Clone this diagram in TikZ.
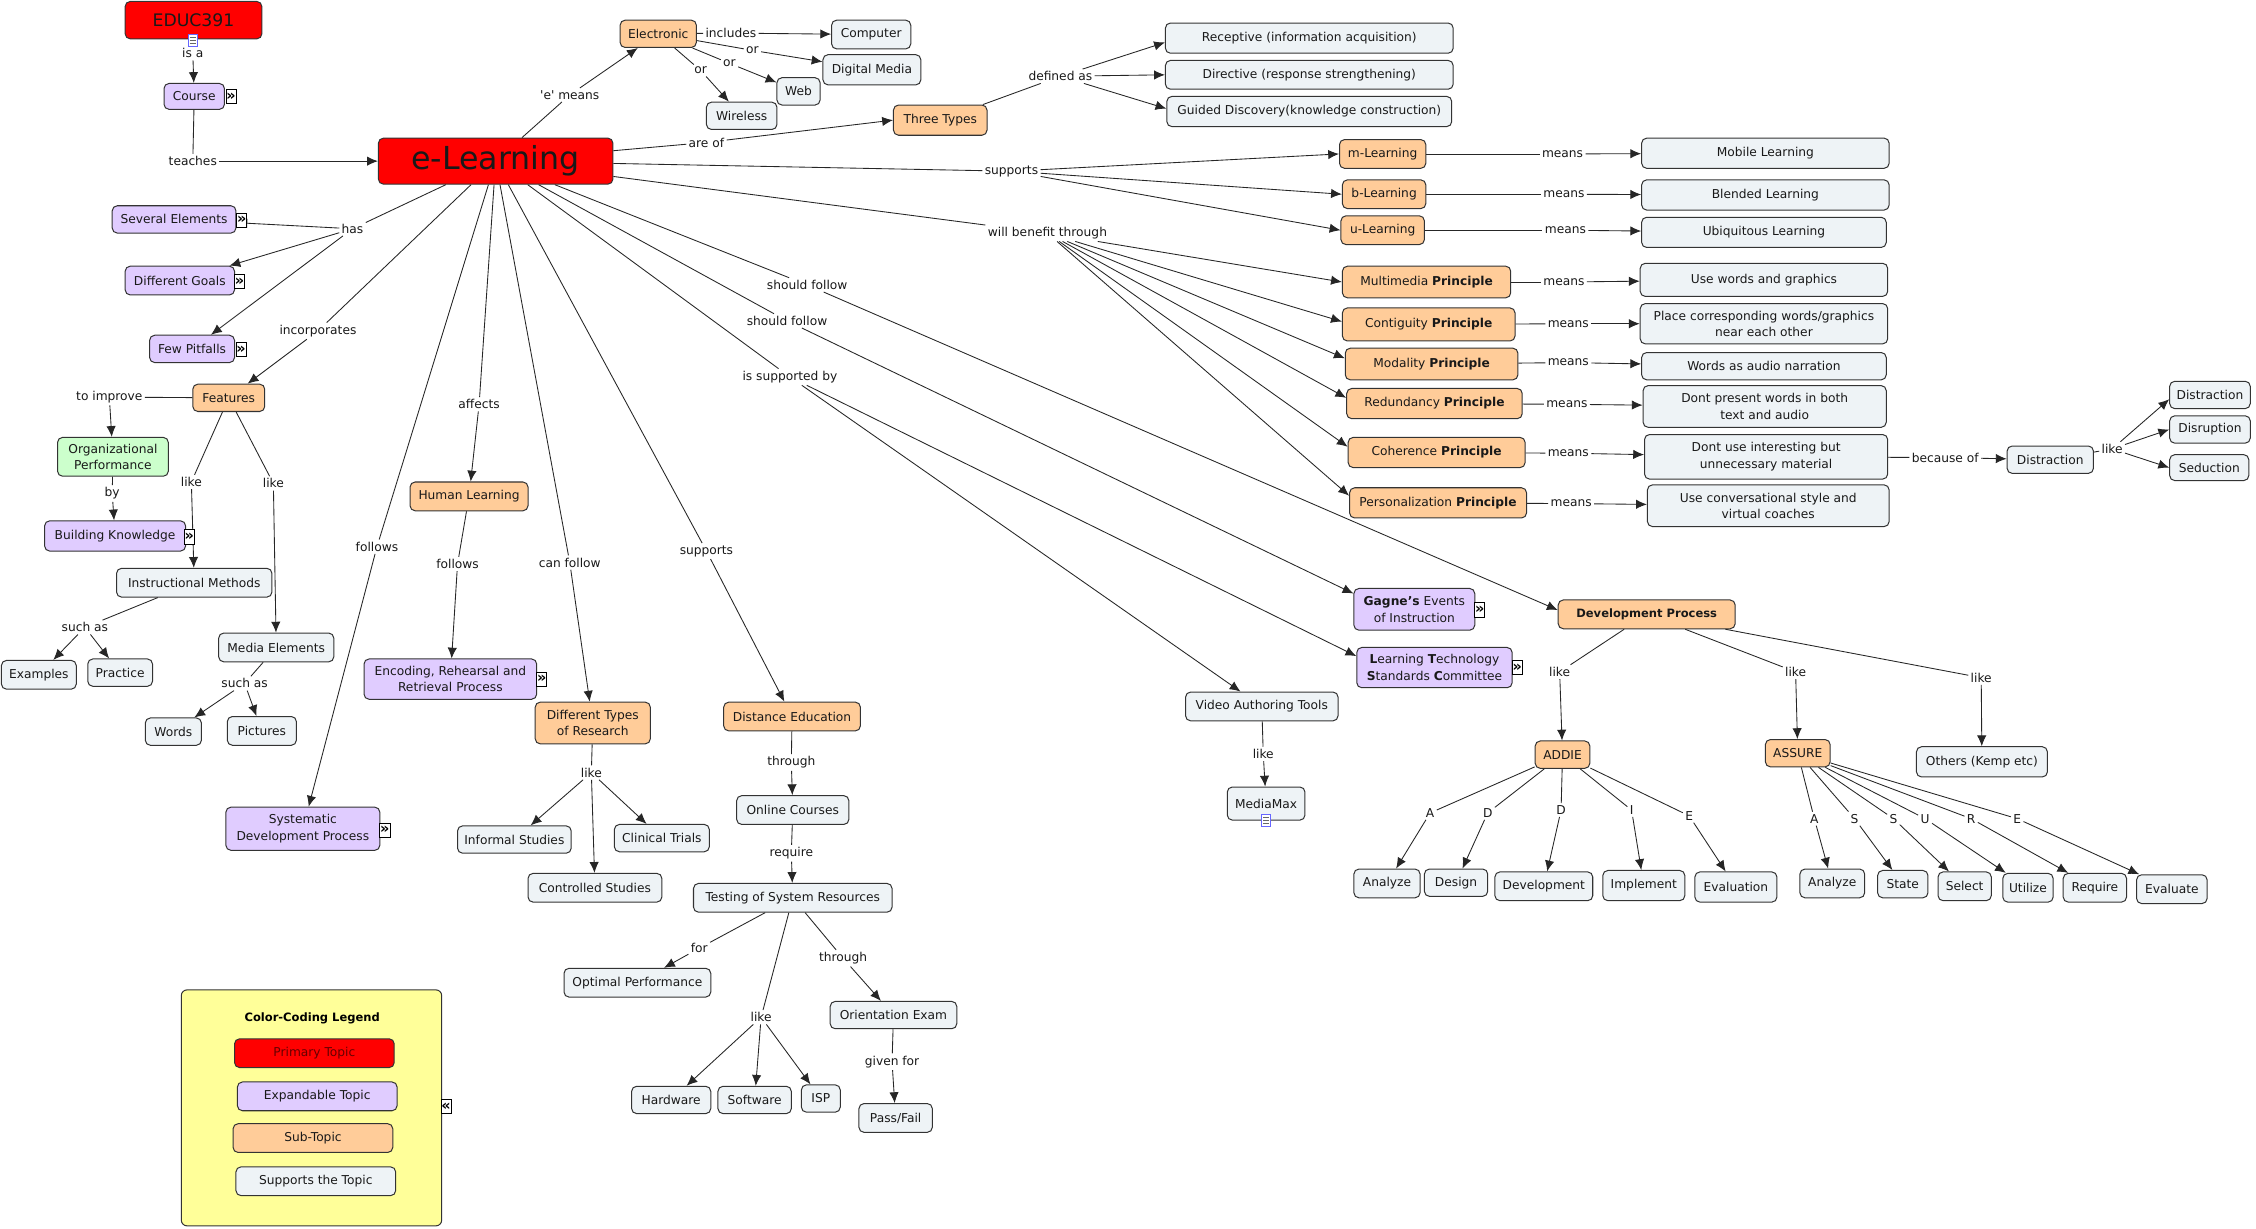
\documentclass[tikz,border=0pt]{standalone}
\usepackage{fontspec}
\setmainfont{DejaVu Sans}
\usetikzlibrary{arrows.meta}
\definecolor{pred}{HTML}{FF0000}
\definecolor{pexp}{HTML}{E0CCFF}
\definecolor{psub}{HTML}{FFCC99}
\definecolor{psup}{HTML}{EEF3F6}
\definecolor{pgrn}{HTML}{CCFFCC}
\definecolor{pyel}{HTML}{FFFF99}
\newcommand\nfs{\fontsize{8.5}{11.5}\selectfont}
\begin{document}
\begin{tikzpicture}[x=1pt,y=-1pt,
  bx/.style={draw=black!80, rounded corners=3.5pt, line width=0.7pt, font=\nfs, align=center, inner sep=1pt, text=black!90},
  pri/.style={bx, fill=pred},
  exd/.style={bx, fill=pexp},
  sbt/.style={bx, fill=psub},
  spt/.style={bx, fill=psup},
  grn/.style={bx, fill=pgrn},
  wh/.style 2 args={minimum width=#1pt, minimum height=#2pt},
  lb/.style={font=\nfs, inner sep=1.5pt, text=black!90},
  ln/.style={line width=0.6pt, draw=black!85},
  ar/.style={ln, -{Latex[length=7.5pt,width=6.5pt]}},
  xic/.style={draw, fill=white, inner sep=0pt, minimum width=7pt, minimum height=10pt, line width=0.5pt, font=\fontsize{10}{10}\selectfont\bfseries},
  dic/.style={draw=blue!60, fill=white, inner sep=0pt, minimum width=6.5pt, minimum height=8.5pt, line width=0.5pt},
]
\fill[white] (0,0) rectangle (1568,854);
\useasboundingbox (0,0) rectangle (1568,854);

% ---------- top left ----------
\node[pri,wh={95}{26},font=\fontsize{12}{14}\selectfont] (educ) at (134.5,14) {EDUC391};
\node[lb] (isa) at (134,37) {is a};
\node[exd,wh={42}{18}] (course) at (135,67) {Course};
\node[lb] (teaches) at (134,112) {teaches};
\node[pri,wh={163}{32},font=\fontsize{22}{24}\selectfont] (elearn) at (344.5,112) {e-Learning};
\node[lb] (emeans) at (396,66) {\textquotesingle e\textquotesingle\ means};
\node[sbt,wh={53}{19}] (electronic) at (457.5,23.5) {Electronic};
\node[lb] (includes) at (508,23) {includes};
\node[spt,wh={55}{20}] (computer) at (605.5,24) {Computer};
\node[lb] (or1) at (523,35) {or};
\node[spt,wh={68}{21}] (digmedia) at (606,48.5) {Digital Media};
\node[lb] (or2) at (507,44) {or};
\node[spt,wh={30}{19}] (web) at (555,63.5) {Web};
\node[lb] (or3) at (487,49) {or};
\node[spt,wh={49}{19}] (wireless) at (515.5,80.5) {Wireless};
\node[lb] (areof) at (491,99) {are of};
\node[sbt,wh={65}{21}] (three) at (653.5,83.5) {Three Types};
\node[lb] (defas) at (737,53) {defined as};
\node[spt,wh={200}{21}] (recep) at (910,26.5) {Receptive (information acquisition)};
\node[spt,wh={200}{20}] (direc) at (910,52) {Directive (response strengthening)};
\node[spt,wh={198}{21}] (guided) at (910,77.5) {Guided Discovery(knowledge construction)};

% ---------- supports m/b/u ----------
\node[lb] (supp1) at (703,119) {supports};
\node[sbt,wh={60}{20}] (mlearn) at (961,107) {m-Learning};
\node[sbt,wh={58}{20}] (blearn) at (962,135) {b-Learning};
\node[sbt,wh={58}{20}] (ulearn) at (961,160) {u-Learning};
\node[lb] (mm) at (1086,107) {means};
\node[lb] (mb) at (1087,135) {means};
\node[lb] (mu) at (1088,160) {means};
\node[spt,wh={172}{21}] (mobile) at (1227,106.5) {Mobile Learning};
\node[spt,wh={172}{21}] (blended) at (1227,135.5) {Blended Learning};
\node[spt,wh={170}{21}] (ubiq) at (1226,161.5) {Ubiquitous Learning};

% ---------- principles ----------
\node[lb] (wbt) at (728,162) {will benefit through};
\node[sbt,wh={117}{22}] (pmulti) at (991.5,196) {Multimedia \textbf{Principle}};
\node[sbt,wh={120}{23}] (pconti) at (993,225.5) {Contiguity \textbf{Principle}};
\node[sbt,wh={120}{22}] (pmoda) at (995,253) {Modality \textbf{Principle}};
\node[sbt,wh={122}{21}] (predun) at (997,280.5) {Redundancy \textbf{Principle}};
\node[sbt,wh={123}{21}] (pcoher) at (998.5,314.5) {Coherence \textbf{Principle}};
\node[sbt,wh={123}{21}] (pperso) at (999.5,349.5) {Personalization \textbf{Principle}};
\node[lb] (mn1) at (1087,196) {means};
\node[lb] (mn2) at (1090,225) {means};
\node[lb] (mn3) at (1090,252) {means};
\node[lb] (mn4) at (1089,281) {means};
\node[lb] (mn5) at (1090,315) {means};
\node[lb] (mn6) at (1092,350) {means};
\node[spt,wh={172}{23}] (usewords) at (1226,194.5) {Use words and graphics};
\node[spt,wh={172}{28}] (place) at (1226,225) {Place corresponding words/graphics\\near each other};
\node[spt,wh={170}{19}] (audio) at (1226,254.5) {Words as audio narration};
\node[spt,wh={169}{29}] (dontp) at (1226.5,282.5) {Dont present words in both\\text and audio};
\node[spt,wh={169}{31}] (dontu) at (1227.5,317.5) {Dont use interesting but\\unnecessary material};
\node[spt,wh={168}{29}] (convers) at (1229,351.5) {Use conversational style and\\virtual coaches};
\node[lb] (becof) at (1352,318) {because of};
\node[spt,wh={60}{19}] (distr) at (1425,319.5) {Distraction};
\node[lb] (likeD) at (1468,312) {like};
\node[spt,wh={56}{19}] (distr2) at (1536,274.5) {Distraction};
\node[spt,wh={56}{19}] (disrupt) at (1536,298.5) {Disruption};
\node[spt,wh={55}{18}] (seduct) at (1535.5,325) {Seduction};

% ---------- left ----------
\node[lb] (has) at (245,159) {has};
\node[exd,wh={86}{19}] (several) at (121,152.5) {Several Elements};
\node[exd,wh={76}{20}] (goals) at (125,195) {Different Goals};
\node[exd,wh={59}{19}] (pitfalls) at (133.5,242.5) {Few Pitfalls};
\node[lb] (incorp) at (221,230) {incorporates};
\node[sbt,wh={50}{19}] (features) at (159,276.5) {Features};
\node[lb] (toimp) at (76,276) {to improve};
\node[grn,wh={77}{27}] (orgperf) at (78.5,317.5) {Organizational\\Performance};
\node[lb] (by) at (78,343) {by};
\node[exd,wh={98}{21}] (building) at (80,372.5) {Building Knowledge};
\node[lb] (likeFa) at (133,335) {like};
\node[lb] (likeFb) at (190,336) {like};
\node[spt,wh={108}{20}] (instr) at (135,405) {Instructional Methods};
\node[spt,wh={80}{20}] (media) at (192,450) {Media Elements};
\node[lb] (suchasa) at (59,436) {such as};
\node[spt,wh={52}{20}] (examples) at (27,469) {Examples};
\node[spt,wh={45}{19}] (practice) at (83.5,467.5) {Practice};
\node[lb] (suchasb) at (170,475) {such as};
\node[spt,wh={39}{19}] (words) at (120.5,508.5) {Words};
\node[spt,wh={48}{20}] (pictures) at (182,508) {Pictures};
\node[lb] (followsa) at (262,380) {follows};
\node[exd,wh={107}{30}] (sysdev) at (210.5,576) {Systematic\\Development Process};
\node[lb] (affects) at (333,281) {affects};
\node[sbt,wh={82}{20}] (human) at (326,345) {Human Learning};
\node[lb] (followsb) at (318,392) {follows};
\node[exd,wh={120}{28}] (encoding) at (313,472) {Encoding, Rehearsal and\\Retrieval Process};
\node[lb] (canfollow) at (396,391) {can follow};
\node[sbt,wh={80}{29}] (difftypes) at (412,502.5) {Different Types\\of Research};
\node[lb] (likeR) at (411,537) {like};
\node[spt,wh={79}{19}] (informal) at (357.5,583.5) {Informal Studies};
\node[spt,wh={93}{20}] (controlled) at (413.5,617) {Controlled Studies};
\node[spt,wh={66}{19}] (clinical) at (460,582.5) {Clinical Trials};
\node[lb] (suppb) at (491,383) {supports};
\node[sbt,wh={95}{20}] (distance) at (550.5,498) {Distance Education};
\node[lb] (througha) at (550,530) {through};
\node[spt,wh={78}{20}] (online) at (551,563) {Online Courses};
\node[lb] (require) at (550,593) {require};
\node[spt,wh={138}{20}] (testing) at (551,624) {Testing of System Resources};
\node[lb] (forl) at (486,659) {for};
\node[spt,wh={102}{20}] (optimal) at (443,683) {Optimal Performance};
\node[lb] (likeT) at (529,707) {like};
\node[spt,wh={55}{19}] (hardware) at (466.5,764.5) {Hardware};
\node[spt,wh={51}{19}] (software) at (524.5,764.5) {Software};
\node[spt,wh={27}{19}] (isp) at (570.5,763.5) {ISP};
\node[lb] (throughb) at (586,666) {through};
\node[spt,wh={88}{19}] (orient) at (621,705.5) {Orientation Exam};
\node[lb] (givenfor) at (620,738) {given for};
\node[spt,wh={51}{20}] (passfail) at (622.5,777) {Pass/Fail};

% ---------- middle ----------
\node[lb] (shoulda) at (561,198) {should follow};
\node[lb] (shouldb) at (547,223) {should follow};
\node[lb] (issup) at (549,262) {is supported by};
\node[exd,wh={84}{29}] (gagne) at (983,423.5) {\textbf{Gagne’s} Events\\of Instruction};
\node[exd,wh={108}{28}] (ltsc) at (997,464) {\textbf{L}earning \textbf{T}echnology\\\textbf{S}tandards \textbf{C}ommittee};
\node[spt,wh={106}{20}] (video) at (877,491) {Video Authoring Tools};
\node[lb] (likeV) at (878,524) {like};
\node[spt,wh={54}{23}] (mediamax) at (880,558.5) {MediaMax};
\node[sbt,wh={123}{20},font=\fontsize{8}{10}\selectfont\bfseries] (devproc) at (1144.5,427) {Development Process};
\node[lb] (likeA) at (1084,467) {like};
\node[lb] (likeS) at (1248,467) {like};
\node[lb] (likeO) at (1377,471) {like};
\node[sbt,wh={38}{19}] (addie) at (1086,524.5) {ADDIE};
\node[sbt,wh={45}{19}] (assure) at (1249.5,523.5) {ASSURE};
\node[spt,wh={91}{21}] (others) at (1377.5,529.5) {Others (Kemp etc)};
\node[lb] (la1) at (994,565) {A};
\node[lb] (ld1) at (1034,565) {D};
\node[lb] (ld2) at (1085,563) {D};
\node[lb] (li1) at (1134,563) {I};
\node[lb] (le1) at (1174,567) {E};
\node[spt,wh={46}{20}] (analyzea) at (964,614) {Analyze};
\node[spt,wh={44}{19}] (design) at (1012,613.5) {Design};
\node[spt,wh={68}{20}] (develop) at (1073,616) {Development};
\node[spt,wh={57}{21}] (implement) at (1142.5,615.5) {Implement};
\node[spt,wh={57}{21}] (evaluation) at (1206.5,616.5) {Evaluation};
\node[lb] (la2) at (1261,569) {A};
\node[lb] (ls1) at (1289,569) {S};
\node[lb] (ls2) at (1316,569) {S};
\node[lb] (lu1) at (1338,569) {U};
\node[lb] (lr1) at (1370,569) {R};
\node[lb] (le2) at (1402,569) {E};
\node[spt,wh={45}{20}] (analyzeb) at (1273.5,614) {Analyze};
\node[spt,wh={35}{19}] (state) at (1322.5,614.5) {State};
\node[spt,wh={37}{20}] (select) at (1365.5,616) {Select};
\node[spt,wh={35}{20}] (utilize) at (1409.5,617) {Utilize};
\node[spt,wh={44}{20}] (requireb) at (1456,617) {Require};
\node[spt,wh={49}{20}] (evaluate) at (1509.5,618) {Evaluate};

% ---------- legend ----------
\node[draw=black!80, fill=pyel, rounded corners=4pt, line width=0.7pt, minimum width=181pt, minimum height=164pt] (legend) at (216.5,770) {};
\node[font=\fontsize{8}{10}\selectfont\bfseries] (legtitle) at (217,708) {Color-Coding Legend};
\node[pri,wh={111}{20},text=red!40!black] (lgp) at (218.5,732) {Primary Topic};
\node[exd,wh={111}{20}] (lge) at (220.5,762) {Expandable Topic};
\node[sbt,wh={111}{20}] (lgs) at (217.5,791) {Sub-Topic};
\node[spt,wh={111}{20}] (lgu) at (219.5,821) {Supports the Topic};
\node[xic] (lgic) at (310,769) {«};

% ---------- links ----------
\draw[ln] (educ) -- (isa); \draw[ar] (isa) -- (course);
\draw[ln] (course) -- (teaches); \draw[ar] (teaches) -- (elearn);
\draw[ln] (elearn) -- (emeans); \draw[ar] (emeans) -- (electronic);
\draw[ln] (electronic) -- (includes); \draw[ar] (includes) -- (computer);
\draw[ln] (electronic) -- (or1); \draw[ar] (or1) -- (digmedia);
\draw[ln] (electronic) -- (or2); \draw[ar] (or2) -- (web);
\draw[ln] (electronic) -- (or3); \draw[ar] (or3) -- (wireless);
\draw[ln] (elearn) -- (areof); \draw[ar] (areof) -- (three.west);
\draw[ln] (three) -- (defas);
\draw[ar] (defas) -- ([yshift=-3pt]recep.west); \draw[ar] (defas) -- (direc.west); \draw[ar] (defas) -- ([yshift=2pt]guided.west);
\draw[ln] (elearn) -- (supp1);
\draw[ar] (supp1) -- (mlearn.west); \draw[ar] (supp1) -- (blearn.west); \draw[ar] (supp1) -- (ulearn.west);
\draw[ln] (mlearn) -- (mm); \draw[ar] (mm) -- (mobile);
\draw[ln] (blearn) -- (mb); \draw[ar] (mb) -- (blended);
\draw[ln] (ulearn) -- (mu); \draw[ar] (mu) -- (ubiq);
\draw[ln] (elearn) -- (wbt);
\draw[ar] (wbt) -- (pmulti.west);
\draw[ar] (wbt) -- ([yshift=2pt]pconti.west);
\draw[ar] (wbt) -- ([yshift=4pt]pmoda.west);
\draw[ar] (wbt) -- ([yshift=4pt]predun.west);
\draw[ar] (wbt) -- ([yshift=4pt]pcoher.west);
\draw[ar] (wbt) -- ([yshift=5pt]pperso.west);
\draw[ln] (pmulti) -- (mn1); \draw[ar] (mn1) -- (usewords);
\draw[ln] (pconti) -- (mn2); \draw[ar] (mn2) -- (place);
\draw[ln] (pmoda) -- (mn3); \draw[ar] (mn3) -- (audio);
\draw[ln] (predun) -- (mn4); \draw[ar] (mn4) -- (dontp);
\draw[ln] (pcoher) -- (mn5); \draw[ar] (mn5) -- (dontu);
\draw[ln] (pperso) -- (mn6); \draw[ar] (mn6) -- (convers);
\draw[ln] (dontu) -- (becof); \draw[ar] (becof) -- (distr);
\draw[ln] (distr) -- (likeD);
\draw[ar] (likeD) -- ([yshift=-3pt]distr2.west); \draw[ar] (likeD) -- (disrupt.west); \draw[ar] (likeD) -- (seduct.west);

\draw[ln] (elearn) -- (has);
\draw[ar] (has) -- (several); \draw[ar] (has) -- (goals); \draw[ar] (has) -- (pitfalls);
\draw[ln] (elearn) -- (incorp); \draw[ar] (incorp) -- (features);
\draw[ln] (features) -- (toimp); \draw[ar] (toimp) -- (orgperf);
\draw[ln] (orgperf) -- (by); \draw[ar] (by) -- (building);
\draw[ln] (features) -- (likeFa); \draw[ar] (likeFa) -- (instr);
\draw[ln] (features) -- (likeFb); \draw[ar] (likeFb) -- (media);
\draw[ln] (instr) -- (suchasa); \draw[ar] (suchasa) -- (examples); \draw[ar] (suchasa) -- (practice);
\draw[ln] (media) -- (suchasb); \draw[ar] (suchasb) -- (words); \draw[ar] (suchasb) -- (pictures);
\draw[ln] (elearn) -- (followsa); \draw[ar] (followsa) -- (sysdev);
\draw[ln] (elearn) -- (affects); \draw[ar] (affects) -- (human);
\draw[ln] (human) -- (followsb); \draw[ar] (followsb) -- (encoding);
\draw[ln] (elearn) -- (canfollow); \draw[ar] (canfollow) -- (difftypes);
\draw[ln] (difftypes) -- (likeR);
\draw[ar] (likeR) -- (informal); \draw[ar] (likeR) -- (controlled); \draw[ar] (likeR) -- (clinical);
\draw[ln] (elearn) -- (suppb); \draw[ar] (suppb) -- (distance);
\draw[ln] (distance) -- (througha); \draw[ar] (througha) -- (online);
\draw[ln] (online) -- (require); \draw[ar] (require) -- (testing);
\draw[ln] (testing) -- (forl); \draw[ar] (forl) -- (optimal);
\draw[ln] (testing) -- (likeT);
\draw[ar] (likeT) -- (hardware); \draw[ar] (likeT) -- (software); \draw[ar] (likeT) -- (isp);
\draw[ln] (testing) -- (throughb); \draw[ar] (throughb) -- (orient);
\draw[ln] (orient) -- (givenfor); \draw[ar] (givenfor) -- (passfail);

\draw[ln] (elearn) -- (shoulda); \draw[ar] (shoulda) -- ([yshift=3pt]devproc.west);
\draw[ln] (elearn) -- (shouldb); \draw[ar] (shouldb) -- ([yshift=11pt]gagne.west);
\draw[ln] (elearn) -- (issup); \draw[ar] (issup) -- ([yshift=8pt]ltsc.west); \draw[ar] (issup) -- (video);
\draw[ln] (video) -- (likeV); \draw[ar] (likeV) -- (mediamax);
\draw[ln] (devproc) -- (likeA); \draw[ar] (likeA) -- (addie);
\draw[ln] (devproc) -- (likeS); \draw[ar] (likeS) -- (assure);
\draw[ln] (devproc) -- (likeO); \draw[ar] (likeO) -- (others);
\draw[ln] (addie) -- (la1); \draw[ar] (la1) -- (analyzea);
\draw[ln] (addie) -- (ld1); \draw[ar] (ld1) -- (design);
\draw[ln] (addie) -- (ld2); \draw[ar] (ld2) -- (develop);
\draw[ln] (addie) -- (li1); \draw[ar] (li1) -- (implement);
\draw[ln] (addie) -- (le1); \draw[ar] (le1) -- (evaluation);
\draw[ln] (assure) -- (la2); \draw[ar] (la2) -- (analyzeb);
\draw[ln] (assure) -- (ls1); \draw[ar] (ls1) -- (state);
\draw[ln] (assure) -- (ls2); \draw[ar] (ls2) -- (select);
\draw[ln] (assure) -- (lu1); \draw[ar] (lu1) -- (utilize);
\draw[ln] (assure) -- (lr1); \draw[ar] (lr1) -- (requireb);
\draw[ln] (assure) -- (le2); \draw[ar] (le2) -- (evaluate);

% ---------- icons ----------
\node[dic] (educic) at (134,28) {};
\node[dic] (mediaic) at (880,570) {};
\foreach \ic in {educic,mediaic} {
  \draw[black!60, line width=0.4pt] ([xshift=-2pt,yshift=2pt]\ic.center) -- ++(4pt,0pt);
  \draw[black!60, line width=0.4pt] ([xshift=-2pt,yshift=0pt]\ic.center) -- ++(4pt,0pt);
  \draw[black!60, line width=0.4pt] ([xshift=-2pt,yshift=-2pt]\ic.center) -- ++(4pt,0pt);
}
\node[xic] (courseic) at (160.5,67) {»};
\node[xic] (severalic) at (168,153) {»};
\node[xic] (goalsic) at (166.5,195.5) {»};
\node[xic] (pitfallsic) at (167.5,243) {»};
\node[xic] (buildingic) at (131.5,373) {»};
\node[xic] (sysdevic) at (267.5,577) {»};
\node[xic] (encodingic) at (376.5,472) {»};
\node[xic] (gagneic) at (1028.5,424) {»};
\node[xic] (ltscic) at (1054.5,464) {»};
\end{tikzpicture}
\end{document}
